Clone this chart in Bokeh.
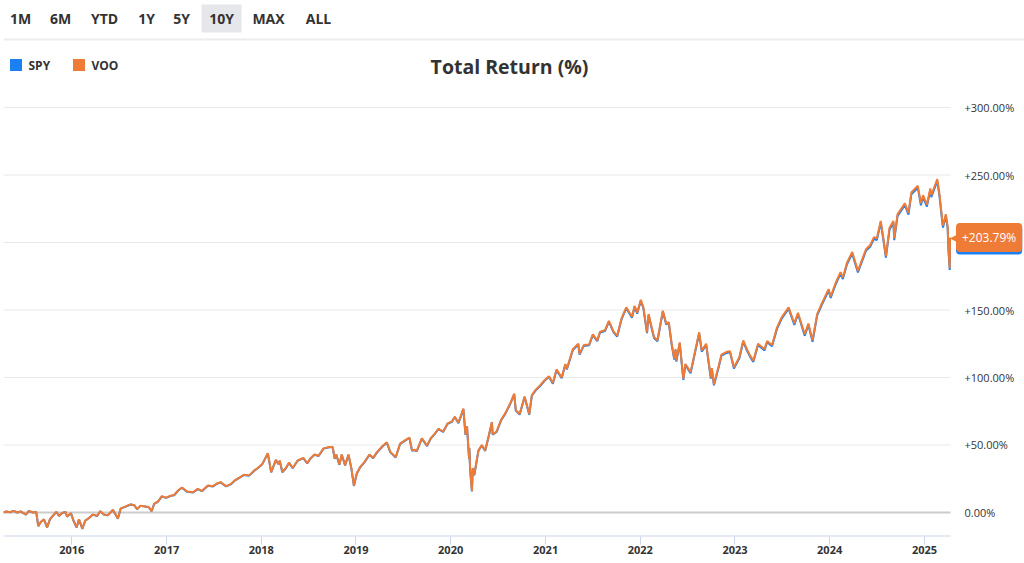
import pandas as pd
from bokeh.plotting import figure
from bokeh.layouts import column
from bokeh.models import Range1d, FixedTicker, Label, DatetimeTickFormatter, ColumnDataSource
from bokeh.core.properties import value
from bokeh.embed import file_html
from bokeh.resources import INLINE

# ---------------- data ----------------
BUTTONS = ["1M", "6M", "YTD", "1Y", "5Y", "10Y", "MAX", "ALL"]
ACTIVE_BUTTON = "10Y"
SERIES = ["SPY", "VOO"]
TITLE = "Total Return (%)"
Y_TICKS = [0, 50, 100, 150, 200, 250, 300]
Y_LABELS = ["0.00%", "+50.00%", "+100.00%", "+150.00%", "+200.00%", "+250.00%", "+300.00%"]
YEAR_LABELS = ["2016", "2017", "2018", "2019", "2020", "2021", "2022", "2023", "2024", "2025"]

DATES = [
    "2015-04-13", "2015-04-24", "2015-05-08", "2015-05-22", "2015-06-05", "2015-06-19", "2015-07-08", "2015-07-20",
    "2015-08-05", "2015-08-17", "2015-08-25", "2015-09-04", "2015-09-16", "2015-09-28", "2015-10-09", "2015-10-22",
    "2015-11-03", "2015-11-13", "2015-11-24", "2015-12-08", "2015-12-14", "2015-12-29", "2016-01-08", "2016-01-20",
    "2016-01-29", "2016-02-11", "2016-02-22", "2016-03-08", "2016-03-22", "2016-04-08", "2016-04-20", "2016-05-05",
    "2016-05-19", "2016-06-08", "2016-06-27", "2016-07-08", "2016-07-27", "2016-08-15", "2016-08-29", "2016-09-09",
    "2016-09-22", "2016-10-10", "2016-10-24", "2016-11-04", "2016-11-14", "2016-11-28", "2016-12-13", "2016-12-30",
    "2017-01-17", "2017-01-30", "2017-02-15", "2017-03-01", "2017-03-21", "2017-04-13", "2017-05-01", "2017-05-17",
    "2017-06-09", "2017-06-29", "2017-07-14", "2017-07-28", "2017-08-18", "2017-09-05", "2017-09-22", "2017-10-10",
    "2017-10-27", "2017-11-15", "2017-12-04", "2017-12-18", "2018-01-05", "2018-01-26", "2018-02-08", "2018-02-26",
    "2018-03-08", "2018-03-13", "2018-03-23", "2018-04-06", "2018-04-18", "2018-05-02", "2018-05-21", "2018-06-12",
    "2018-06-27", "2018-07-09", "2018-07-25", "2018-08-10", "2018-08-29", "2018-09-20", "2018-10-03", "2018-10-11",
    "2018-10-17", "2018-10-29", "2018-11-07", "2018-11-20", "2018-12-03", "2018-12-14", "2018-12-24", "2019-01-04",
    "2019-01-18", "2019-02-01", "2019-02-22", "2019-03-08", "2019-03-22", "2019-04-12", "2019-04-30", "2019-05-13",
    "2019-06-03", "2019-06-20", "2019-07-05", "2019-07-26", "2019-08-05", "2019-08-14", "2019-08-23", "2019-09-12",
    "2019-10-02", "2019-10-16", "2019-10-30", "2019-11-15", "2019-12-03", "2019-12-20", "2020-01-06", "2020-01-17",
    "2020-01-31", "2020-02-19", "2020-02-27", "2020-03-04", "2020-03-12", "2020-03-13", "2020-03-16", "2020-03-23",
    "2020-03-26", "2020-04-01", "2020-04-17", "2020-04-30", "2020-05-13", "2020-05-27", "2020-06-08", "2020-06-11",
    "2020-06-26", "2020-07-13", "2020-07-31", "2020-08-18", "2020-09-02", "2020-09-08", "2020-09-23", "2020-10-12",
    "2020-10-30", "2020-11-09", "2020-11-24", "2020-12-10", "2020-12-28", "2021-01-14", "2021-01-29", "2021-02-12",
    "2021-03-04", "2021-03-18", "2021-03-24", "2021-04-16", "2021-05-07", "2021-05-12", "2021-05-28", "2021-06-18",
    "2021-07-02", "2021-07-19", "2021-07-30", "2021-08-18", "2021-09-02", "2021-09-20", "2021-10-04", "2021-10-21",
    "2021-11-08", "2021-11-30", "2021-12-10", "2021-12-20", "2022-01-03", "2022-01-13", "2022-01-27", "2022-02-02",
    "2022-02-14", "2022-02-23", "2022-03-08", "2022-03-29", "2022-04-11", "2022-04-21", "2022-05-02", "2022-05-12",
    "2022-05-17", "2022-05-20", "2022-06-02", "2022-06-16", "2022-06-24", "2022-07-14", "2022-08-16", "2022-08-26",
    "2022-09-12", "2022-09-30", "2022-10-04", "2022-10-12", "2022-10-31", "2022-11-10", "2022-11-30", "2022-12-13",
    "2022-12-28", "2023-01-18", "2023-02-02", "2023-02-16", "2023-03-01", "2023-03-13", "2023-03-31", "2023-04-25",
    "2023-05-05", "2023-05-24", "2023-06-12", "2023-06-30", "2023-07-27", "2023-08-18", "2023-09-01", "2023-09-27",
    "2023-10-11", "2023-10-27", "2023-11-14", "2023-12-01", "2023-12-28", "2024-01-05", "2024-01-24", "2024-02-12",
    "2024-02-21", "2024-03-08", "2024-03-28", "2024-04-19", "2024-05-20", "2024-06-05", "2024-06-20", "2024-07-01",
    "2024-07-16", "2024-07-24", "2024-08-05", "2024-08-19", "2024-09-03", "2024-09-06", "2024-09-19", "2024-10-17",
    "2024-10-31", "2024-11-11", "2024-12-06", "2024-12-18", "2024-12-26", "2025-01-10", "2025-01-23", "2025-01-27",
    "2025-02-19", "2025-02-28", "2025-03-10", "2025-03-13", "2025-03-24", "2025-03-31", "2025-04-03", "2025-04-08",
    "2025-04-09",
]

VOO = [
    0, 0.8, 0.2, 1.2, 0, 0.8, -1.5, 1.2,
    0, 0.5, -10, -7, -5, -11, -5, -2,
    0.5, -2.5, -0.5, 0.5, -3, -0.5, -6, -11,
    -5, -12, -6, -4, -1.5, -2.5, 1, -1.5,
    -2, 2, -4.5, 3, 4.5, 6, 5.5, 2.5,
    5, 4.5, 4, 1, 6.5, 8, 12, 11,
    12.5, 13, 16.5, 18.5, 15.5, 15, 17.5, 16,
    20, 19.5, 21.5, 22.5, 19.5, 21, 24, 26,
    28, 27.5, 31, 33, 36, 44, 30, 39,
    36, 38.5, 30, 33, 37, 33, 38.5, 40.5,
    36.5, 40, 43, 42, 47.5, 48.5, 48.5, 40,
    43, 35.5, 43, 35, 43, 33, 20, 29,
    34, 37, 43, 40.5, 44.5, 49, 52, 45,
    41, 51, 53, 55.5, 46, 46.5, 45.5, 55,
    49.5, 55, 58, 62, 60, 66, 67.5, 71,
    66.5, 77, 58, 64, 40, 48, 32, 16,
    33, 28, 46, 50, 46, 57, 67, 58,
    60, 68.5, 74, 81, 88, 76, 73, 86,
    73, 87, 91, 94, 98, 101, 96, 106,
    100, 110, 106.5, 121, 125, 117.5, 124, 124.5,
    132, 127.5, 134, 135, 142, 134, 131, 144,
    152, 145, 153, 148, 157.5, 152, 133.5, 147,
    137, 130, 127.5, 149.5, 140, 141, 125, 114,
    121, 112.5, 126, 99, 110, 104, 133.5, 120,
    125, 100, 107, 95, 109, 117, 119, 119.5,
    107.5, 115, 127.5, 121, 116, 112.5, 125, 121,
    127, 124, 137, 144.5, 152, 140, 148, 132,
    140, 127.5, 147, 154.5, 165.5, 160, 170, 178,
    174, 185, 193, 179, 195, 198, 204, 203,
    216, 206, 190, 211, 216, 203, 221, 229,
    222, 237, 242, 229, 235, 228, 240, 235,
    247, 235, 217, 212.5, 221, 212, 196, 181,
    203.79,
]

SPY = [
    0, 0.8, 0.2, 1.2, 0, 0.7, -1.6, 1.1,
    -0.1, 0.4, -10.1, -7.1, -5.1, -11.1, -5.1, -2.1,
    0.4, -2.6, -0.6, 0.4, -3.1, -0.6, -6.1, -11.1,
    -5.1, -12.1, -6.1, -4.1, -1.6, -2.6, 0.9, -1.6,
    -2.1, 1.9, -4.6, 2.9, 4.4, 5.9, 5.4, 2.4,
    4.9, 4.4, 3.9, 0.9, 6.4, 7.9, 11.8, 10.8,
    12.3, 12.8, 16.3, 18.3, 15.3, 14.8, 17.3, 15.8,
    19.8, 19.3, 21.3, 22.3, 19.3, 20.8, 23.8, 25.8,
    27.8, 27.3, 30.8, 32.8, 35.8, 43.8, 29.8, 38.8,
    35.8, 38.3, 29.8, 32.8, 36.8, 32.8, 38.3, 40.3,
    36.3, 39.8, 42.8, 41.8, 47.3, 48.3, 48.3, 39.8,
    42.8, 35.3, 42.8, 34.8, 42.7, 32.7, 19.7, 28.7,
    33.7, 36.7, 42.7, 40.2, 44.2, 48.7, 51.7, 44.7,
    40.7, 50.7, 52.7, 55.2, 45.7, 46.2, 45.2, 54.7,
    49.2, 54.7, 57.7, 61.7, 59.7, 65.7, 67.2, 70.7,
    66.2, 76.6, 57.6, 63.6, 39.6, 47.6, 31.6, 15.6,
    32.6, 27.6, 45.6, 49.6, 45.6, 56.6, 66.6, 57.6,
    59.6, 68.1, 73.6, 80.6, 87.5, 75.5, 72.5, 85.5,
    72.5, 86.5, 90.5, 93.5, 97.5, 100.5, 95.4, 105.4,
    99.4, 109.4, 105.9, 120.4, 124.4, 116.9, 123.4, 123.9,
    131.4, 126.9, 133.4, 134.4, 141.4, 133.4, 130.3, 143.3,
    151.3, 144.3, 152.3, 147.3, 156.8, 151.3, 132.8, 146.3,
    136.3, 129.3, 126.8, 148.8, 139.3, 140.3, 124.3, 113.3,
    120.3, 111.8, 125.3, 98.3, 109.3, 103.2, 132.7, 119.2,
    124.2, 99.2, 106.2, 94.2, 108.2, 116.2, 118.2, 118.7,
    106.7, 114.2, 126.6, 120.1, 115.1, 111.6, 124.1, 120.1,
    126.1, 123.1, 136.0, 143.5, 151.0, 139.0, 147.0, 131.0,
    139.0, 126.5, 146.0, 153.5, 164.4, 158.9, 168.9, 176.9,
    172.9, 183.9, 191.8, 177.8, 193.8, 196.8, 202.8, 201.8,
    214.8, 204.8, 188.8, 209.7, 214.7, 201.7, 219.7, 227.7,
    220.7, 235.7, 240.6, 227.6, 233.6, 226.6, 238.6, 233.6,
    245.6, 233.6, 215.6, 211.1, 219.6, 210.6, 194.6, 179.6,
    202.6,
]

# ---------------- styles / layout ----------------
BLUE = "#1a80f4"
ORANGE = "#ee7b36"
TEXT = "#333333"
FONT = value("Open Sans")

X_START = pd.Timestamp("2015-04-13")
X_END = pd.Timestamp("2025-04-11")
PLOT_PX = 947          # width of the plotting area (gridlines)
FRAME_PX = 1021        # full frame width (plotting area + label column)
Y_MIN, Y_MAX = -17.78, 305.19

# ---------------- header (buttons, legend, title) ----------------
hdr = figure(width=1024, height=95, x_range=Range1d(3, 1024), y_range=Range1d(95, 0),
             toolbar_location=None, output_backend="svg",
             min_border_left=3, min_border_right=0, min_border_top=0, min_border_bottom=0,
             x_axis_location=None, y_axis_location=None, outline_line_color=None)
hdr.grid.visible = False

button_x = [20, 60, 104, 146, 181, 221, 268, 318]
ai = BUTTONS.index(ACTIVE_BUTTON)
hdr.quad(left=[button_x[ai] - 20], right=[button_x[ai] + 20], top=[4], bottom=[32],
         fill_color="#e6e7ea", line_color=None)
hdr.text(x=button_x, y=[18] * len(BUTTONS), text=BUTTONS, text_align="center",
         text_baseline="middle", text_font=FONT, text_font_style="bold",
         text_font_size="14px", text_color=TEXT)
hdr.segment(x0=[3], y0=[39], x1=[1024], y1=[39], line_color="#ececec", line_width=2)

hdr.rect(x=[15.5, 78.5], y=[64.5, 64.5], width=12, height=12,
         fill_color=[BLUE, ORANGE], line_color=None)
hdr.text(x=[28, 91], y=[65, 65], text=SERIES, text_align="left", text_baseline="middle",
         text_font=FONT, text_font_style="bold", text_font_size="12px", text_color=TEXT)
hdr.text(x=[509], y=[66], text=[TITLE], text_align="center", text_baseline="middle",
         text_font=FONT, text_font_style="bold", text_font_size="19.5px", text_color=TEXT)

# ---------------- main chart ----------------
dates = pd.to_datetime(DATES)
src = ColumnDataSource(dict(date=dates, spy=SPY, voo=VOO))

x_frame_end = X_START + (X_END - X_START) * (FRAME_PX / PLOT_PX)

p = figure(width=1024, height=468, x_axis_type="datetime",
           x_range=Range1d(X_START, x_frame_end),
           y_range=Range1d(Y_MIN, Y_MAX), y_axis_location=None,
           toolbar_location=None, output_backend="svg",
           min_border_left=3, min_border_right=0, min_border_top=5, min_border_bottom=27,
           outline_line_color=None)
p.grid.visible = False

# horizontal gridlines, zero line and bottom axis line, limited to the plotting area
grid_vals = [t for t in Y_TICKS if t != 0]
p.segment(x0=[X_START] * len(grid_vals), x1=[X_END] * len(grid_vals), y0=grid_vals, y1=grid_vals,
          line_color="#e9e9e9", line_width=1)
p.segment(x0=[X_START], x1=[X_END], y0=[0], y1=[0], line_color="#cccccc", line_width=2)
p.segment(x0=[X_START], x1=[X_END], y0=[Y_MIN], y1=[Y_MIN], line_color="#ccd6eb", line_width=2)

# right-hand value labels
p.text(x=[X_END] * len(Y_TICKS), y=Y_TICKS, text=Y_LABELS, x_offset=14,
       text_align="left", text_baseline="middle", text_font=FONT,
       text_font_size="11px", text_color=TEXT)

year_ticks = [pd.Timestamp(f"{y}-01-01").value // 10**6 for y in YEAR_LABELS]
p.xaxis.ticker = FixedTicker(ticks=year_ticks)
p.xaxis.formatter = DatetimeTickFormatter(years="%Y", months="%Y", days="%Y", hours="%Y")
p.xaxis.axis_line_color = None
p.xaxis.major_tick_line_color = "#ccd6eb"
p.xaxis.minor_tick_line_color = None
p.xaxis.major_tick_out = 8
p.xaxis.major_tick_in = 0
p.xaxis.major_label_standoff = 1
p.xaxis.major_label_text_font = "Open Sans"
p.xaxis.major_label_text_font_style = "bold"
p.xaxis.major_label_text_font_size = "11px"
p.xaxis.major_label_text_color = TEXT

p.line(x="date", y="spy", source=src, line_color=BLUE, line_width=2)
p.line(x="date", y="voo", source=src, line_color=ORANGE, line_width=2)

last = dates[-1]
p.add_layout(Label(x=last, y=SPY[-1], text=f"+{SPY[-1]:.2f}%", x_offset=6, y_offset=-1,
                   text_align="left", text_baseline="middle", text_font="Open Sans",
                   text_font_size="12px", text_color="white",
                   background_fill_color=BLUE, border_radius=4, padding=6))
p.add_layout(Label(x=last, y=VOO[-1], text="\u25c0", x_offset=0,
                   text_align="left", text_baseline="middle", text_font="DejaVu Sans",
                   text_font_size="10px", text_color=ORANGE))
p.add_layout(Label(x=last, y=VOO[-1], text=f"+{VOO[-1]:.2f}%", x_offset=6,
                   text_align="left", text_baseline="middle", text_font="Open Sans",
                   text_font_size="12px", text_color="white",
                   background_fill_color=ORANGE, border_radius=4, padding=6))

layout = column(hdr, p, spacing=0)
open("out.html", "w").write(file_html(layout, INLINE))
